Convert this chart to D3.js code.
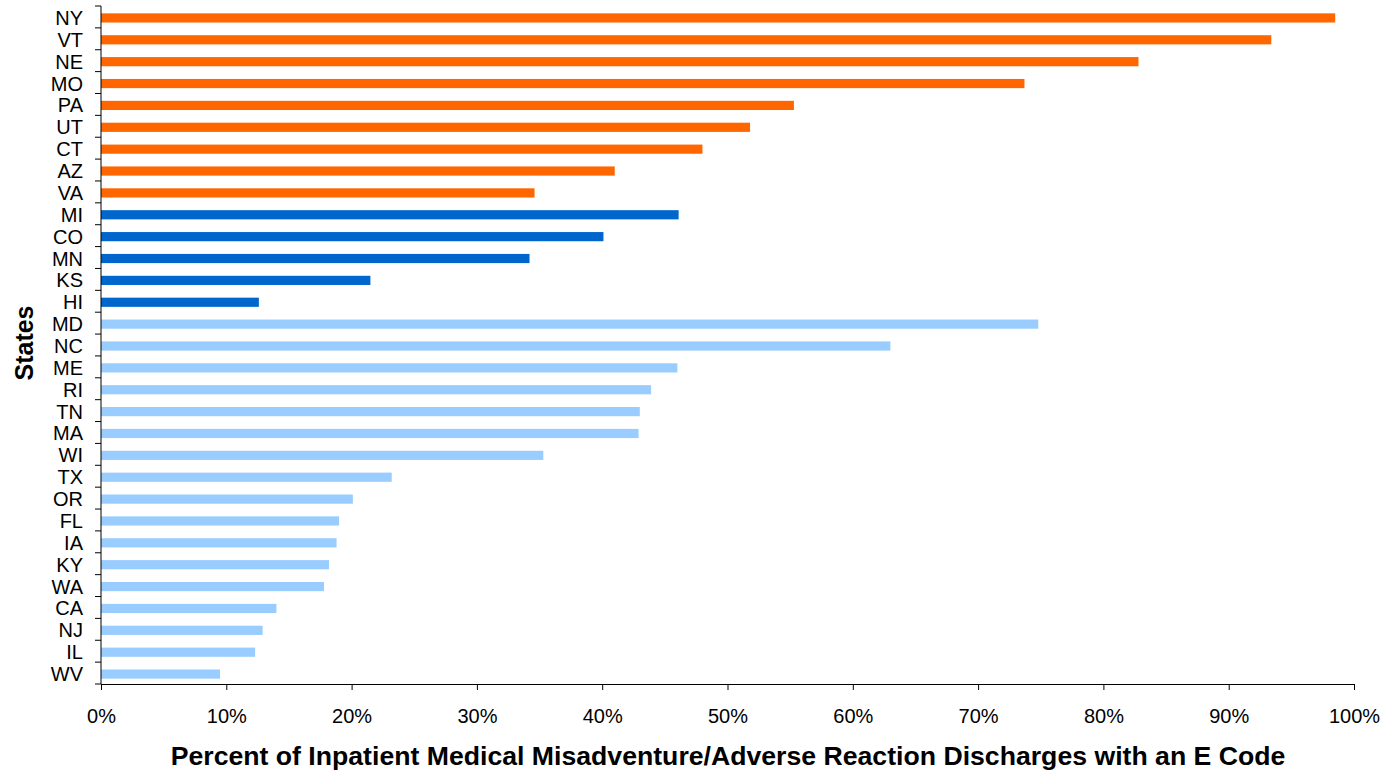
<!DOCTYPE html>
<html>
<head>
<meta charset="utf-8">
<script src="https://d3js.org/d3.v7.min.js"></script>
<style>
  body { margin: 0; background: #fff; }
  svg text { font-family: "Liberation Sans", Arial, sans-serif; fill: #000; }
</style>
</head>
<body>
<div id="container"></div>
<script>
const states = ['NY','VT','NE','MO','PA','UT','CT','AZ','VA','MI','CO','MN','KS','HI','MD','NC','ME','RI','TN','MA','WI','TX','OR','FL','IA','KY','WA','CA','NJ','IL','WV'];
const values = [98.5,93.4,82.8,73.7,55.3,51.8,48.0,41.0,34.6,46.1,40.1,34.2,21.5,12.6,74.8,63.0,46.0,43.9,43.0,42.9,35.3,23.2,20.1,19.0,18.8,18.2,17.8,14.0,12.9,12.3,9.5];
const groups = ['A','A','A','A','A','A','A','A','A','B','B','B','B','B','C','C','C','C','C','C','C','C','C','C','C','C','C','C','C','C','C'];
const groupColors = {A: '#FF6600', B: '#0066CC', C: '#99CCFF'};
const xTicks = [0,10,20,30,40,50,60,70,80,90,100];

const w = 1389, h = 774;
const pLeft = 101, pRight = 1354, pTop = 6, pBottom = 684;

const svg = d3.select('#container').append('svg')
  .attr('width', w).attr('height', h);

const x = d3.scaleLinear().domain([0, 100]).range([pLeft, pRight]);
const y = d3.scaleBand().domain(states).range([pTop, pBottom]).paddingInner(0.58).paddingOuter(0.29);
const step = y.step();

svg.selectAll('rect.bar')
  .data(states)
  .enter()
  .append('rect')
  .attr('class', 'bar')
  .attr('x', x(0))
  .attr('y', d => y(d) + 1)
  .attr('width', (d, i) => x(values[i]) - x(0))
  .attr('height', y.bandwidth())
  .attr('fill', (d, i) => groupColors[groups[i]]);

// y axis: ticks between categories
const yg = svg.append('g');
yg.append('line')
  .attr('x1', pLeft).attr('x2', pLeft).attr('y1', pTop).attr('y2', pBottom)
  .attr('stroke', '#000');
d3.range(states.length + 1).forEach(i => {
  yg.append('line')
    .attr('x1', pLeft - 6).attr('x2', pLeft)
    .attr('y1', pTop + i * step).attr('y2', pTop + i * step)
    .attr('stroke', '#000');
});
yg.selectAll('text')
  .data(states)
  .enter()
  .append('text')
  .attr('x', 83)
  .attr('y', (d, i) => pTop + (i + 0.5) * step + 8)
  .attr('text-anchor', 'end')
  .style('font-size', '20px')
  .text(d => d);

// x axis
const xAxis = d3.axisBottom(x).tickValues(xTicks).tickFormat(d => d + '%').tickSize(6).tickSizeOuter(0);
const xg = svg.append('g')
  .attr('transform', 'translate(0,' + pBottom + ')')
  .call(xAxis);
xg.select('.domain').attr('stroke', '#000');
xg.selectAll('.tick line').attr('stroke', '#000');
xg.selectAll('.tick text')
  .attr('y', 25)
  .style('font-size', '20px')
  .style('font-family', '"Liberation Sans", Arial, sans-serif');

// bold axis titles, fitted to the original widths
function fitted(g, str, size, len) {
  const t = g.append('text')
    .attr('text-anchor', 'middle')
    .style('font-size', size + 'px')
    .style('font-weight', 'bold')
    .text(str);
  const k = len / t.node().getComputedTextLength();
  t.attr('transform', 'scale(' + k + ',1)');
}
fitted(svg.append('g').attr('transform', 'translate(728,765)'),
  'Percent of Inpatient Medical Misadventure/Adverse Reaction Discharges with an E Code', 25, 1115);
fitted(svg.append('g').attr('transform', 'translate(33,343) rotate(-90)'),
  'States', 25, 75);
</script>
</body>
</html>
